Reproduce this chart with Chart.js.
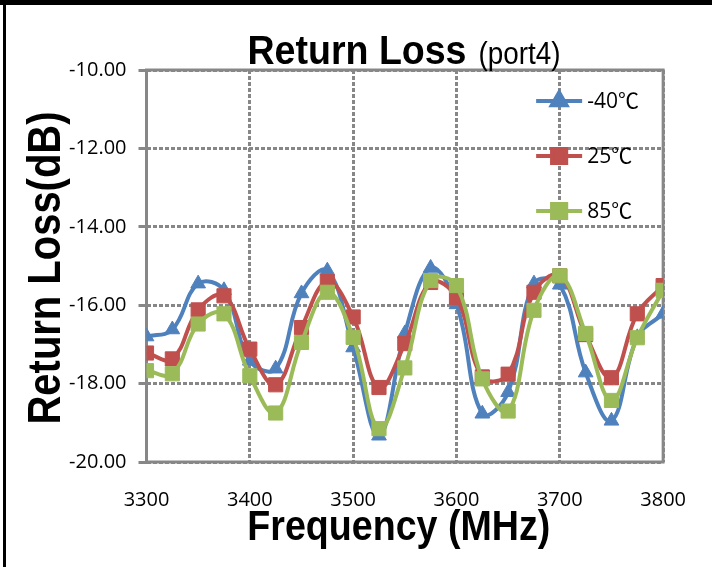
<!DOCTYPE html>
<html>
<head>
<meta charset="utf-8">
<script src="https://cdn.jsdelivr.net/npm/chart.js@4.4.1/dist/chart.umd.min.js"></script>
<style>
  html, body { margin: 0; padding: 0; background: #fff; }
  #wrap { position: relative; width: 712px; height: 567px; }
  canvas { display: block; }
</style>
</head>
<body>
<div id="wrap"><canvas id="rl" width="712" height="567"></canvas></div>
<script>
// frequency points (MHz)
const freqs = [3300, 3325, 3350, 3375, 3400, 3425, 3450, 3475, 3500, 3525, 3550,
               3575, 3600, 3625, 3650, 3675, 3700, 3725, 3750, 3775, 3800];

// return loss per temperature (dB)
const rlMinus40 = [-16.80, -16.62, -15.45, -15.62, -17.42, -17.62, -15.70, -15.12, -17.08, -19.33, -16.72,
                   -15.05, -15.98, -18.77, -18.22, -15.45, -15.48, -17.72, -18.95, -16.82, -16.22];
const rl25 = [-17.22, -17.37, -16.12, -15.76, -17.12, -18.03, -16.57, -15.40, -16.30, -18.10, -16.98,
              -15.42, -15.80, -17.83, -17.76, -15.67, -15.25, -16.75, -17.85, -16.22, -15.50];
const rl85 = [-17.67, -17.75, -16.48, -16.22, -17.80, -18.75, -16.95, -15.67, -16.82, -19.15, -17.60,
              -15.37, -15.50, -17.88, -18.70, -16.13, -15.25, -16.72, -18.43, -16.83, -15.62];

const seriesLabels = ['-40℃', '25℃', '85℃'];
const xTicks = [3300, 3400, 3500, 3600, 3700, 3800];
const yTicks = [-20, -18, -16, -14, -12, -10];

const colors = ['#4F81BD', '#C0504D', '#9BBB59'];
const styles = ['triangle', 'rect', 'rect'];
const radii = [8.5, 10, 10];

const tickFont = { family: '"Open Sans", "Noto Sans CJK SC", sans-serif', size: 20 };

function toPoints(ys) {
  return freqs.map((f, i) => ({ x: f, y: ys[i] }));
}

// draw text squeezed to a given width
function squeezed(ctx, text, font, x, y, width, align) {
  ctx.save();
  ctx.font = font;
  const w = ctx.measureText(text).width;
  const s = width / w;
  ctx.translate(x, y);
  ctx.scale(s, 1);
  ctx.textAlign = align || 'left';
  ctx.textBaseline = 'alphabetic';
  ctx.fillText(text, 0, 0);
  ctx.restore();
}

const decorations = {
  id: 'decorations',
  beforeDatasetsDraw(chart) {
    const { ctx, chartArea: a } = chart;
    ctx.save();
    ctx.strokeStyle = '#878787';
    ctx.lineWidth = 3;
    ctx.setLineDash([]);
    ctx.strokeRect(a.left, a.top, a.right - a.left, a.bottom - a.top);
    ctx.restore();
  },
  afterDraw(chart) {
    const { ctx, chartArea: a } = chart;
    ctx.save();
    // outer frame
    ctx.fillStyle = '#000';
    ctx.fillRect(0, 0, 712, 5);
    ctx.fillRect(3, 0, 3, 567);

    // title
    const bold = 'bold 41px "Liberation Sans", Arial, sans-serif';
    const thin = '32px "Liberation Sans", Arial, sans-serif';
    const w1 = 219, w2 = 82, gap = 12;
    const start = 404 - (w1 + gap + w2) / 2;
    squeezed(ctx, 'Return Loss', bold, start, 64, w1);
    squeezed(ctx, '(port4)', thin, start + w1 + gap, 64, w2);

    // x axis title
    squeezed(ctx, 'Frequency (MHz)', 'bold 42px "Liberation Sans", Arial, sans-serif',
      (a.left + a.right) / 2 - 6, 540, 303, 'center');

    // y axis title
    ctx.save();
    ctx.translate(60, 268);
    ctx.rotate(-Math.PI / 2);
    squeezed(ctx, 'Return Loss(dB)', 'bold 46px "Liberation Sans", Arial, sans-serif', 0, 0, 313, 'center');
    ctx.restore();

    // legend
    const lx = a.right - 127;
    const rows = [a.top + 31, a.top + 86, a.top + 141];
    chart.data.datasets.forEach((ds, i) => {
      const y = rows[i];
      ctx.strokeStyle = ds.borderColor;
      ctx.lineWidth = 4;
      ctx.beginPath();
      ctx.moveTo(lx, y);
      ctx.lineTo(lx + 46, y);
      ctx.stroke();
      ctx.fillStyle = ds.borderColor;
      ctx.strokeStyle = ds.borderColor;
      Chart.helpers.drawPoint(ctx, { pointStyle: ds.pointStyle, radius: ds.pointRadius, rotation: 0, borderWidth: 1 }, lx + 23, y);
      ctx.fillStyle = '#000';
      ctx.font = '21px "Open Sans", "Noto Sans CJK SC", sans-serif';
      ctx.textBaseline = 'middle';
      ctx.textAlign = 'left';
      ctx.fillText(ds.label, lx + 51, y + 1);
    });
    ctx.restore();
  }
};

const allSeries = [rlMinus40, rl25, rl85];

new Chart(document.getElementById('rl'), {
  type: 'line',
  data: {
    datasets: allSeries.map((ys, i) => ({
      label: seriesLabels[i],
      data: toPoints(ys),
      borderColor: colors[i],
      backgroundColor: colors[i],
      pointBackgroundColor: colors[i],
      pointBorderColor: colors[i],
      pointStyle: styles[i],
      pointRadius: radii[i],
      pointBorderWidth: 1,
      borderWidth: 4,
      tension: 0.4,
      fill: false,
      order: 3 - i
    }))
  },
  options: {
    responsive: false,
    animation: false,
    layout: { padding: { left: 0, right: 42.5, top: 70, bottom: 0 } },
    plugins: {
      legend: { display: false },
      tooltip: { enabled: false },
      title: { display: false }
    },
    scales: {
      x: {
        type: 'linear',
        min: 3300,
        max: 3800,
        afterBuildTicks: s => { s.ticks = xTicks.map(v => ({ value: v })); },
        afterFit: s => { s.height = 105; },
        ticks: { font: tickFont, color: '#000', padding: 26, callback: v => String(v) },
        grid: { color: '#878787', lineWidth: 3, drawTicks: false },
        border: { display: false, dash: [4, 2] }
      },
      y: {
        min: -20,
        max: -10,
        afterBuildTicks: s => { s.ticks = yTicks.map(v => ({ value: v })); },
        afterFit: s => { s.width = 146.5; },
        ticks: { font: tickFont, color: '#000', padding: 12, callback: v => v.toFixed(2) },
        grid: { color: '#878787', lineWidth: 3, drawTicks: true, tickLength: 8, tickColor: '#878787', tickWidth: 3 },
        border: { display: false, dash: [4, 2] }
      }
    }
  },
  plugins: [decorations]
});
</script>
</body>
</html>
